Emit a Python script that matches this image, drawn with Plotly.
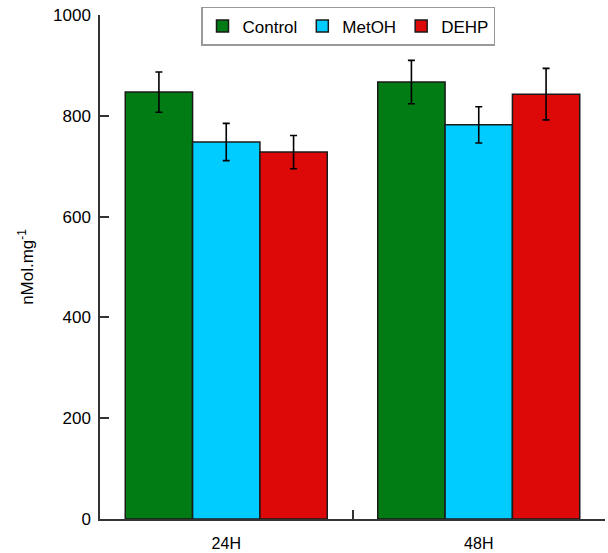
import plotly.graph_objects as go

categories = ["24H", "48H"]
series_names = ["Control", "MetOH", "DEHP"]
control = [847, 867]
control_err = [40, 43]
metoh = [748, 782]
metoh_err = [37, 36]
dehp = [728, 843]
dehp_err = [33, 51]
colors = ["#017B13", "#00CCFF", "#DD0808"]
y_ticks = [0, 200, 400, 600, 800, 1000]

fig = go.Figure()
for name, vals, errs, col in zip(series_names, [control, metoh, dehp],
                                 [control_err, metoh_err, dehp_err], colors):
    fig.add_trace(go.Bar(
        x=categories, y=vals, name=name,
        marker=dict(color=col, line=dict(color="#1a1a1a", width=1.5)),
        error_y=dict(type="data", array=errs, color="black", thickness=1.6, width=3.5),
    ))

fig.update_layout(
    width=608, height=553,
    barmode="group", bargap=0.2, bargroupgap=0,
    plot_bgcolor="white", paper_bgcolor="white",
    margin=dict(l=100, r=3, t=15, b=34, autoexpand=False),
    font=dict(family="Liberation Sans, Arial", size=17, color="black"),
    showlegend=True,
    legend=dict(orientation="h", x=0.2, xanchor="left", y=1.016, yanchor="top",
                bordercolor="#999999", borderwidth=1.5, bgcolor="white",
                font=dict(size=17), tracegroupgap=0),
)
fig.update_xaxes(
    range=[-0.5, 1.5], showline=True, linecolor="#333333", linewidth=1.5,
    ticks="inside", tickson="boundaries", ticklen=9, tickcolor="#333333", tickwidth=1.5,
    showgrid=False, ticklabelstandoff=9, zeroline=False, automargin=False,
    tickfont=dict(size=16),
)
fig.update_yaxes(
    range=[0, 1000], tickvals=y_ticks, showline=True, linecolor="#333333", linewidth=1.5,
    ticks="inside", ticklen=9, tickcolor="#333333", tickwidth=1.5,
    showgrid=False, zeroline=False, ticklabelstandoff=4, automargin=False,
    title=dict(text="nMol.mg<sup>-1</sup>", font=dict(size=17), standoff=15),
)
fig.write_html("out.html")
